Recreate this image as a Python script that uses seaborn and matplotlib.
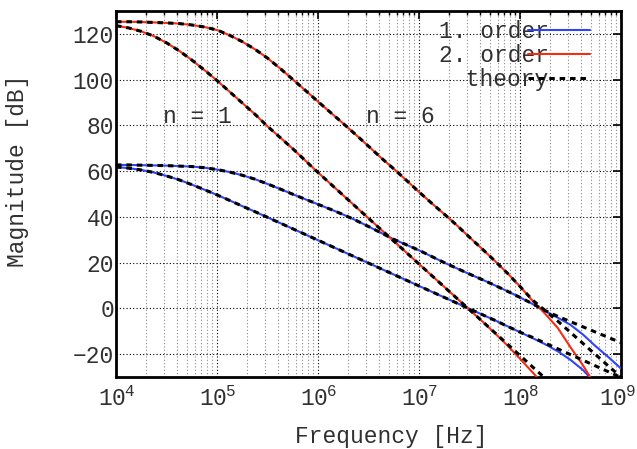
import numpy as np
import pandas as pd
import matplotlib
matplotlib.use("Agg")
import matplotlib.pyplot as plt
import matplotlib.transforms as mtransforms
import seaborn as sns
from matplotlib.ticker import LogLocator, FixedLocator, FuncFormatter, NullFormatter

# log10 of frequency in Hz at which the curves are tabulated (1/8 decade steps)
log_freq = [4.0, 4.125, 4.25, 4.375, 4.5, 4.625, 4.75, 4.875,
            5.0, 5.125, 5.25, 5.375, 5.5, 5.625, 5.75, 5.875,
            6.0, 6.125, 6.25, 6.375, 6.5, 6.625, 6.75, 6.875,
            7.0, 7.125, 7.25, 7.375, 7.5, 7.625, 7.75, 7.875,
            8.0, 8.125, 8.25, 8.375, 8.5, 8.625, 8.75, 8.875, 9.0]

# 1st-order model (blue), n = 1 and n = 6  [dB]
first_n1 = [61.8, 61.3, 60.5, 59.4, 57.9, 56.2, 54.1, 51.9,
            49.6, 47.2, 44.7, 42.3, 39.8, 37.3, 34.8, 32.3,
            29.8, 27.3, 24.8, 22.3, 19.8, 17.3, 14.8, 12.3,
            9.8, 7.3, 4.8, 2.3, -0.2, -2.7, -5.2, -7.8,
            -10.4, -13.0, -15.7, -18.8, -22.5, -27.0, -33.0, -40.0, -48.0]
first_n6 = [62.7, 62.7, 62.6, 62.5, 62.4, 62.2, 62.0, 61.5,
            60.7, 59.6, 58.2, 56.5, 54.4, 52.2, 49.9, 47.7,
            45.5, 43.3, 41.0, 38.5, 35.8, 33.0, 30.2, 27.8,
            25.4, 22.7, 20.0, 17.5, 15.0, 12.6, 10.1, 7.5,
            4.8, 1.9, -1.2, -4.1, -7.2, -11.5, -16.6, -21.3, -26.3]

# 2nd-order model (red), n = 1 and n = 6  [dB]
second_n1 = [123.6, 122.6, 121.1, 119.0, 116.1, 112.6, 108.6, 104.2,
             99.6, 94.7, 89.8, 84.9, 79.6, 74.7, 69.8, 64.6,
             59.4, 54.4, 49.4, 44.4, 39.4, 34.4, 29.4, 24.4,
             19.4, 14.4, 9.4, 4.4, -0.6, -5.6, -10.8, -16.2,
             -22.0, -28.0, -34.0, -40.0, -46.0, -52.0, -58.0, -64.0, -70.0]
second_n6 = [125.3, 125.3, 125.2, 125.0, 124.8, 124.5, 123.9, 123.0,
             121.7, 119.4, 116.6, 113.3, 109.4, 104.9, 100.1, 95.3,
             90.4, 85.6, 80.8, 75.9, 70.9, 65.8, 61.0, 56.0,
             50.9, 46.0, 41.2, 36.3, 31.1, 26.0, 20.8, 15.4,
             9.6, 3.3, -2.4, -8.6, -17.0, -25.0, -34.0, -43.0, -52.0]

# analytic (theory) curves: they follow the simulated ones at low frequency
# and keep the asymptotic slope at the top of the band
theory_first_n1 = first_n1[:33] + [-12.7, -15.2, -17.7, -20.2, -22.7, -25.2, -27.7, -30.2]
theory_first_n6 = first_n6[:33] + [2.0, -1.0, -3.5, -5.8, -8.1, -10.4, -12.7, -15.0]
theory_second_n1 = second_n1[:30] + [-10.6, -15.6, -20.6, -25.6, -30.6, -35.6,
                                     -40.6, -45.6, -50.6, -55.6, -60.6]
theory_second_n6 = second_n6[:33] + [3.6, -1.0, -5.6, -10.5, -15.4, -20.3, -25.2, -30.0]

x_ticks = [1e4, 1e5, 1e6, 1e7, 1e8, 1e9]
y_ticks = [-20, 0, 20, 40, 60, 80, 100, 120]
legend_labels = ["1. order", "2. order", " theory"]
curve_labels = [("n = 1", 10 ** 4.465, 81.1), ("n = 6", 10 ** 6.475, 81.1)]

BLUE = "#2f45f5"
RED = "#f52c12"
TEXT = "#303030"

sns.set_theme(style="white")
plt.rcParams["font.family"] = ["Liberation Mono", "DejaVu Sans"]
plt.rcParams["mathtext.fontset"] = "custom"
plt.rcParams["mathtext.rm"] = "Liberation Mono"
plt.rcParams["mathtext.it"] = "Liberation Mono"
plt.rcParams["text.color"] = TEXT
plt.rcParams["axes.labelcolor"] = TEXT
plt.rcParams["xtick.color"] = "black"
plt.rcParams["ytick.color"] = "black"
plt.rcParams["xtick.labelcolor"] = TEXT
plt.rcParams["ytick.labelcolor"] = TEXT

FS = 16.5
freq = 10 ** np.array(log_freq)

fig = plt.figure(figsize=(6.37, 4.49), dpi=100)
ax = fig.add_axes([116 / 637, 72 / 449, 505 / 637, 366 / 449])

solid = [(first_n1, BLUE, "1. order"), (first_n6, BLUE, None),
         (second_n1, RED, "2. order"), (second_n6, RED, None)]
for vals, col, lab in solid:
    df = pd.DataFrame({"freq": freq, "mag": vals})
    sns.lineplot(data=df, x="freq", y="mag", ax=ax, color=col, lw=1.5,
                 estimator=None, label=lab, zorder=3)

for i, vals in enumerate([theory_first_n1, theory_first_n6,
                          theory_second_n1, theory_second_n6]):
    df = pd.DataFrame({"freq": freq, "mag": vals})
    sns.lineplot(data=df, x="freq", y="mag", ax=ax, color="black", lw=2.2,
                 linestyle=(0, (1.8, 1.6)), estimator=None,
                 label="theory" if i == 0 else None, zorder=4)


def decade_label(value, pos):
    exponent = int(round(np.log10(value)))
    return r"$\mathdefault{10^{\!%d}}$" % exponent


ax.set_xscale("log")
ax.set_xlim(1e4, 1e9)
ax.set_ylim(-30, 130)
ax.yaxis.set_major_locator(FixedLocator(y_ticks))
ax.xaxis.set_major_locator(FixedLocator(x_ticks))
ax.xaxis.set_minor_locator(LogLocator(base=10, subs=np.arange(2, 10), numticks=12))
ax.xaxis.set_major_formatter(FuncFormatter(decade_label))
ax.xaxis.set_minor_formatter(NullFormatter())

ax.set_axisbelow(True)
ax.grid(which="major", axis="both", color="black", lw=0.8, ls=(0, (1, 2)))
ax.grid(which="minor", axis="x", color="#888888", lw=0.8, ls=(0, (1, 2)))

ax.tick_params(which="major", direction="in", length=6, width=1.2,
               top=True, right=True, labelsize=FS)
ax.tick_params(which="minor", direction="in", length=3, width=1.0,
               top=True, right=True)
ax.tick_params(axis="x", which="major", pad=7)
ax.tick_params(axis="y", which="major", pad=1.5)

for sp in ax.spines.values():
    sp.set_linewidth(2.0)
    sp.set_color("black")

ax.set_xlabel("Frequency [Hz]", fontsize=FS)
ax.set_ylabel("Magnitude [dB]", fontsize=FS)
ax.xaxis.set_label_coords(0.545, -0.13)
ax.yaxis.set_label_coords(-0.172, 0.563)

for txt, xv, yv in curve_labels:
    ax.text(xv, yv, txt, fontsize=FS, ha="left", va="baseline")

handles, labels = ax.get_legend_handles_labels()
ax.legend(handles, legend_labels, loc="upper right",
          bbox_to_anchor=(0.9386, 0.975), frameon=False, markerfirst=False,
          handlelength=2.7, handletextpad=-0.9, labelspacing=0.05,
          borderpad=0, borderaxespad=0, fontsize=FS)

# nudge the last decade label so it stays inside the canvas
last_tick = ax.xaxis.get_major_ticks()[-1]
last_tick.label1.set_transform(
    last_tick.label1.get_transform()
    + mtransforms.ScaledTranslation(-0.035, 0, fig.dpi_scale_trans))

fig.savefig("out.png", dpi=100)
